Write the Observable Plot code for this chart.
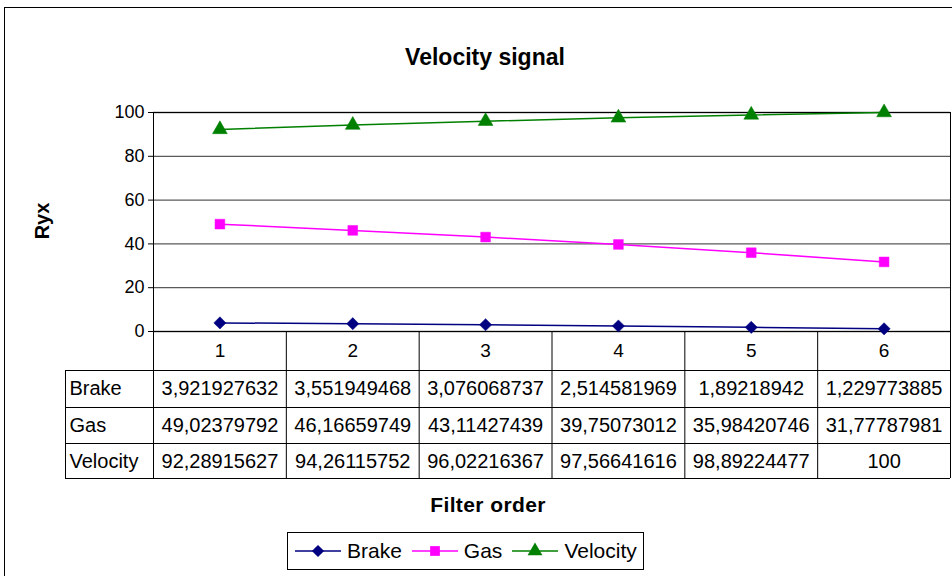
<!DOCTYPE html>
<html>
<head>
<meta charset="utf-8">
<script src="https://cdn.jsdelivr.net/npm/d3@7"></script>
<script src="https://cdn.jsdelivr.net/npm/@observablehq/plot@0.6"></script>
<style>
  html, body { margin: 0; padding: 0; background: #fff; }
  body { font-family: "Liberation Sans", Arial, sans-serif; color: #000; }
  #wrap { position: relative; width: 952px; height: 576px; overflow: hidden; }
  #border { position: absolute; left: 4px; top: 7px; width: 980px; height: 620px; border: 1.5px solid #000; box-sizing: border-box; }
  #chart { position: absolute; left: 0; top: 0; }
  .lbl { position: absolute; font-weight: bold; white-space: nowrap; }
  #title { left: 485px; top: 44px; transform: translateX(-50%); font-size: 23px; }
  #xlabel { left: 488px; top: 493px; transform: translateX(-50%); font-size: 21px; letter-spacing: 0.4px; }
  #ylabel { left: 42px; top: 221px; transform: translate(-50%, -50%) rotate(-90deg); font-size: 20px; }
  #legend { position: absolute; left: 287px; top: 532px; width: 357px; height: 38px; box-sizing: border-box;
            border: 1px solid #000; display: flex; align-items: center; padding-left: 7px; font-size: 21px; background: #fff; }
  #legend .item { display: flex; align-items: center; margin-right: 10px; }
  #legend svg { margin-right: 6px; }
</style>
</head>
<body>
<div id="wrap">
  <div id="border"></div>
  <div id="chart"></div>
  <div id="title" class="lbl">Velocity signal</div>
  <div id="ylabel" class="lbl">Ryx</div>
  <div id="xlabel" class="lbl">Filter order</div>
  <div id="legend"></div>
</div>
<script>
// ---- data ----
const categories = [1, 2, 3, 4, 5, 6];
const seriesNames = ["Brake", "Gas", "Velocity"];
const brake = [3.921927632, 3.551949468, 3.076068737, 2.514581969, 1.89218942, 1.229773885];
const gas = [49.02379792, 46.16659749, 43.11427439, 39.75073012, 35.98420746, 31.77787981];
const velocity = [92.28915627, 94.26115752, 96.02216367, 97.56641616, 98.89224477, 100];
const yTicks = [0, 20, 40, 60, 80, 100];

// ---- styles ----
const colors = ["#000080", "#FF00FF", "#008000"];
const symbols = ["diamond2", "square", "triangle"];
const seriesValues = [brake, gas, velocity];

const long = seriesNames.flatMap((s, k) =>
  categories.map((c, i) => ({ cat: c, series: s, value: seriesValues[k][i] })));

const fmt = v => {
  let s = v.toPrecision(10);
  if (s.includes(".")) s = s.replace(/0+$/, "").replace(/\.$/, "");
  return s.replace(".", ",");
};

const boundaries = [categories[0] - 0.5, ...categories.map(c => c + 0.5)];
const FONT = "'Liberation Sans', Arial, sans-serif";

// table layout (pixel offsets below the x axis)
const headerDy = 19;
const rowDy = [57, 94, 130];
const rowLines = [39, 76, 112, 147];
const labelColW = 88;

const marks = [
  Plot.gridY(yTicks, { stroke: "#5a5a5a", strokeOpacity: 1, strokeWidth: 1.3 }),
  Plot.axisY(yTicks, { tickSize: 5, tickPadding: 4, fontSize: 18, label: null, stroke: "#000", strokeOpacity: 1 }),
  Plot.frame({ stroke: "#000", strokeWidth: 1 }),
  // table vertical lines (column boundaries)
  Plot.ruleX(boundaries, { x: d => d, y1: 0, y2: 0, insetBottom: -rowLines[3], stroke: "#000", strokeWidth: 1 }),
  // table left edge
  Plot.ruleX([boundaries[0]], { x: d => d, y1: 0, y2: 0, dx: -labelColW, insetTop: rowLines[0], insetBottom: -rowLines[3], stroke: "#000", strokeWidth: 1 }),
  // table horizontal lines
  ...rowLines.map(dy => Plot.ruleY([0], { y: d => d, x1: boundaries[0], x2: boundaries[boundaries.length - 1], insetLeft: -labelColW, dy, stroke: "#000", strokeWidth: 1 })),
  // header labels
  Plot.text(categories, { x: d => d, y: 0, dy: headerDy, text: d => String(d), fontSize: 19 }),
  // row labels and values
  ...seriesNames.flatMap((s, k) => [
    Plot.text([s], { x: boundaries[0], y: 0, dx: -labelColW + 4, dy: rowDy[k], text: d => d, textAnchor: "start", fontSize: 20, letterSpacing: 0.6 }),
    Plot.text(categories, { x: d => d, y: 0, dy: rowDy[k], text: (d, i) => fmt(seriesValues[k][i]), fontSize: 20, letterSpacing: 0.4 })
  ]),
  // series
  Plot.line(long, { x: "cat", y: "value", z: "series", stroke: "series", strokeWidth: 1.5 }),
  Plot.dot(long, { x: "cat", y: "value", fill: "series", stroke: "series", symbol: "series", r: 5.5, strokeWidth: 0.5 })
];

const chart = Plot.plot({
  width: 952,
  height: 576,
  marginLeft: 153,
  marginRight: 2,
  marginTop: 112,
  marginBottom: 245,
  x: { type: "linear", domain: [boundaries[0], boundaries[boundaries.length - 1]], axis: null },
  y: { domain: [0, 100], axis: null },
  color: { domain: seriesNames, range: colors },
  symbol: { domain: seriesNames, range: symbols },
  style: { fontFamily: FONT, fontSize: "18px", background: "transparent", color: "#000", overflow: "visible" },
  marks
});
document.getElementById("chart").appendChild(chart);

// legend
const legend = d3.select("#legend");
seriesNames.forEach((s, k) => {
  const item = legend.append("div").attr("class", "item");
  const svg = item.append("svg").attr("width", 46).attr("height", 20);
  svg.append("line").attr("x1", 0).attr("x2", 46).attr("y1", 10).attr("y2", 10)
    .attr("stroke", colors[k]).attr("stroke-width", 1.5);
  const sym = { diamond2: d3.symbolDiamond2, square: d3.symbolSquare, triangle: d3.symbolTriangle }[symbols[k]];
  svg.append("path").attr("transform", "translate(23,10)")
    .attr("d", d3.symbol(sym, Math.PI * 5.5 * 5.5)())
    .attr("fill", colors[k]);
  item.append("span").text(s);
});
</script>
</body>
</html>
